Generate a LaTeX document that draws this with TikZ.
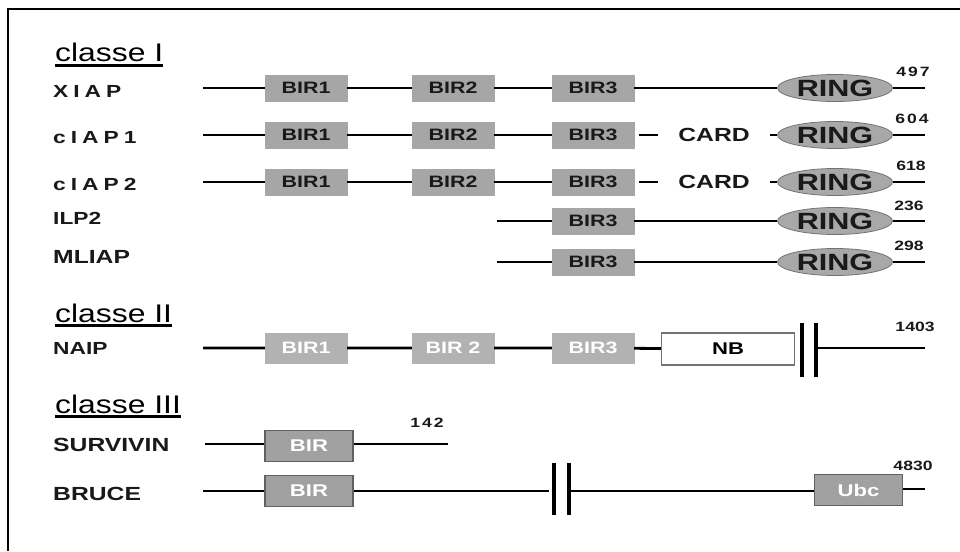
\documentclass[tikz,border=0pt]{standalone}
\usepackage{fontspec}
\setmainfont{Liberation Sans}[FakeStretch=1.3]
\newfontfamily\clsfont{Liberation Sans}[FakeStretch=1.25]
\usetikzlibrary{shapes.geometric}
\definecolor{birgray}{gray}{0.65}
\definecolor{naipgray}{gray}{0.70}
\definecolor{survfill}{gray}{0.63}
\definecolor{survdraw}{gray}{0.38}
\definecolor{ringfill}{gray}{0.66}
\definecolor{ringdraw}{gray}{0.45}
\definecolor{nbdraw}{gray}{0.45}
\definecolor{txtdark}{gray}{0.10}
\tikzset{
  prot/.style={line width=2.8pt, black},
  brk/.style={line width=3.2pt, black},
  bir/.style={draw=birgray, fill=birgray, minimum width=82pt, minimum height=26pt, inner sep=0pt, text=txtdark, text depth=-2pt, font=\bfseries\fontsize{16.5}{16.5}\selectfont},
  birw/.style={bir, draw=naipgray, fill=naipgray, minimum height=30pt, text=white, text depth=0pt},
  birb/.style={bir, draw=survdraw, fill=survfill, line width=1.2pt, minimum width=88pt, minimum height=31pt, text=white, text depth=-2pt, font=\bfseries\fontsize{17}{17}\selectfont},
  ringnode/.style={ellipse, draw=ringdraw, fill=ringfill, line width=0.8pt, minimum width=115pt, minimum height=27pt, inner sep=0pt, text=txtdark, text depth=-1pt, font=\bfseries\fontsize{23.5}{23.5}\selectfont},
  cardnode/.style={minimum width=112pt, inner sep=0pt, text=txtdark, font=\bfseries\fontsize{19}{19}\selectfont},
  nbnode/.style={draw=nbdraw, fill=white, line width=1.2pt, minimum width=133pt, minimum height=32pt, inner sep=0pt, text=black, font=\bfseries\fontsize{17}{17}\selectfont},
  lbl/.style={anchor=west, inner sep=0pt, text=txtdark, font=\bfseries\fontsize{17.5}{17.5}\selectfont},
  lblbig/.style={lbl, font=\bfseries\fontsize{19}{19}\selectfont},
  num/.style={inner sep=0pt, text=txtdark, font=\bfseries\fontsize{13.5}{13.5}\selectfont},
  cls/.style={anchor=base west, inner sep=0pt, font=\clsfont\fontsize{25.5}{25.5}\selectfont},
  uline/.style={line width=2.2pt}
}
\begin{document}
\begin{tikzpicture}[x=1pt, y=-1pt]
\useasboundingbox (0,0) rectangle (960,551);
% frame
\coordinate (fr1) at (960,9);
\coordinate (fr2) at (8,9);
\coordinate (fr3) at (8,551);
\draw[line width=2pt] (fr1) -- (fr2) -- (fr3);

% class headers
\node[cls] (cI) at (55,62) {classe I};
\draw[uline] ([yshift=-3.5pt]cI.base west) -- ([yshift=-3.5pt]cI.base east);
\node[cls] (cII) at (55,322) {classe II};
\draw[uline] ([yshift=-3.5pt]cII.base west) -- ([yshift=-3.5pt]cII.base east);
\node[cls] (cIII) at (55,413) {classe III};
\draw[uline] ([yshift=-3.5pt]cIII.base west) -- ([yshift=-3.5pt]cIII.base east);

% XIAP
\node[lbl] (lxiap) at (53,91) {X\kern5ptI\kern5ptA\kern5ptP};
\coordinate (xs) at (203,88);
\node[bir] (x1) at (306,88) {BIR1};
\node[bir] (x2) at (453,88) {BIR2};
\node[bir] (x3) at (593,88) {BIR3};
\node[ringnode] (xr) at (835,88) {RING};
\coordinate (xe) at (925,88);
\draw[prot] (xs) -- (x1) -- (x2) -- (x3) -- (xr) -- (xe);
\node[num] (nx) at (913,72) {4\kern2pt9\kern2pt7};

% cIAP1
\node[lbl] (lc1) at (53,138) {c\kern5ptI\kern5ptA\kern5ptP\kern5pt1};
\coordinate (as) at (203,135);
\node[bir] (a1) at (306,135) {BIR1};
\node[bir] (a2) at (453,135) {BIR2};
\node[bir] (a3) at (593,135) {BIR3};
\node[cardnode] (ac) at (714,135) {CARD};
\node[ringnode] (ar) at (835,135) {RING};
\coordinate (ae) at (925,135);
\draw[prot] (as) -- (a1) -- (a2) -- (a3);
\draw[prot, shorten <=5pt] (a3) -- (ac);
\draw[prot] (ac) -- (ar) -- (ae);
\node[num] (na) at (912,119) {6\kern2pt0\kern2pt4};

% cIAP2
\node[lbl] (lc2) at (53,184) {c\kern5ptI\kern5ptA\kern5ptP\kern5pt2};
\coordinate (bs) at (203,182);
\node[bir] (b1) at (306,182) {BIR1};
\node[bir] (b2) at (453,182) {BIR2};
\node[bir] (b3) at (593,182) {BIR3};
\node[cardnode] (bc) at (714,182) {CARD};
\node[ringnode] (br) at (835,182) {RING};
\coordinate (be) at (925,182);
\draw[prot] (bs) -- (b1) -- (b2) -- (b3);
\draw[prot, shorten <=5pt] (b3) -- (bc);
\draw[prot] (bc) -- (br) -- (be);
\node[num] (nb) at (911,166) {618};

% ILP2
\node[lbl] (lilp) at (53,218) {ILP2};
\coordinate (is) at (497,221);
\node[bir] (i3) at (593,221) {BIR3};
\node[ringnode] (ir) at (835,221) {RING};
\coordinate (ie) at (925,221);
\draw[prot] (is) -- (i3) -- (ir) -- (ie);
\node[num] (ni) at (909,206) {236};

% MLIAP
\node[lblbig] (lml) at (53,257) {MLIAP};
\coordinate (ms) at (497,262);
\node[bir] (m3) at (593,262) {BIR3};
\node[ringnode] (mr) at (835,262) {RING};
\coordinate (me) at (925,262);
\draw[prot] (ms) -- (m3) -- (mr) -- (me);
\node[num] (nm) at (909,246) {298};

% NAIP
\node[lbl] (lnaip) at (53,348) {NAIP};
\coordinate (ns) at (203,348);
\node[birw] (n1) at (306,348) {BIR1};
\node[birw] (n2) at (453,348) {BIR 2};
\node[birw] (n3) at (593,348) {BIR3};
\node[nbnode] (nnb) at (728,349) {NB};
\coordinate (nk1) at (802,348);
\coordinate (nk2) at (816,348);
\coordinate (ne) at (925,348);
\draw[prot] (ns) -- (n1) -- (n2) -- (n3) -- (nnb);
\draw[brk] ([yshift=25pt]nk1) -- ([yshift=-29pt]nk1);
\draw[brk] ([yshift=25pt]nk2) -- ([yshift=-29pt]nk2);
\draw[prot] (nk2) -- (ne);
\node[num] (nn) at (915,327) {1403};

% SURVIVIN
\node[lblbig] (lsv) at (53,445) {SURVIVIN};
\coordinate (ss) at (205,444);
\node[birb] (s1) at (309,446) {BIR};
\coordinate (se) at (448,444);
\draw[prot] (ss) -- (s1.west |- ss);
\draw[prot] (s1.east |- se) -- (se);
\node[num] (nsv) at (427,423) {1\kern2pt4\kern2pt2};

% BRUCE
\node[lblbig] (lbr) at (53,494) {BRUCE};
\coordinate (rs) at (203,491);
\node[birb] (r1) at (309,491) {BIR};
\coordinate (rk0) at (549,491);
\coordinate (rk1) at (554,491);
\coordinate (rk2) at (569,491);
\node[birb] (ru) at (858.5,490) {Ubc};
\coordinate (re) at (925,489);
\draw[prot] (rs) -- (r1) -- (rk0);
\draw[brk] ([yshift=28pt]rk1) -- ([yshift=-24pt]rk1);
\draw[brk] ([yshift=28pt]rk2) -- ([yshift=-24pt]rk2);
\draw[prot] (rk2) -- (ru.west |- rk2);
\draw[prot] (ru.east |- re) -- (re);
\node[num] (nr) at (913,466) {4830};
\end{tikzpicture}
\end{document}
